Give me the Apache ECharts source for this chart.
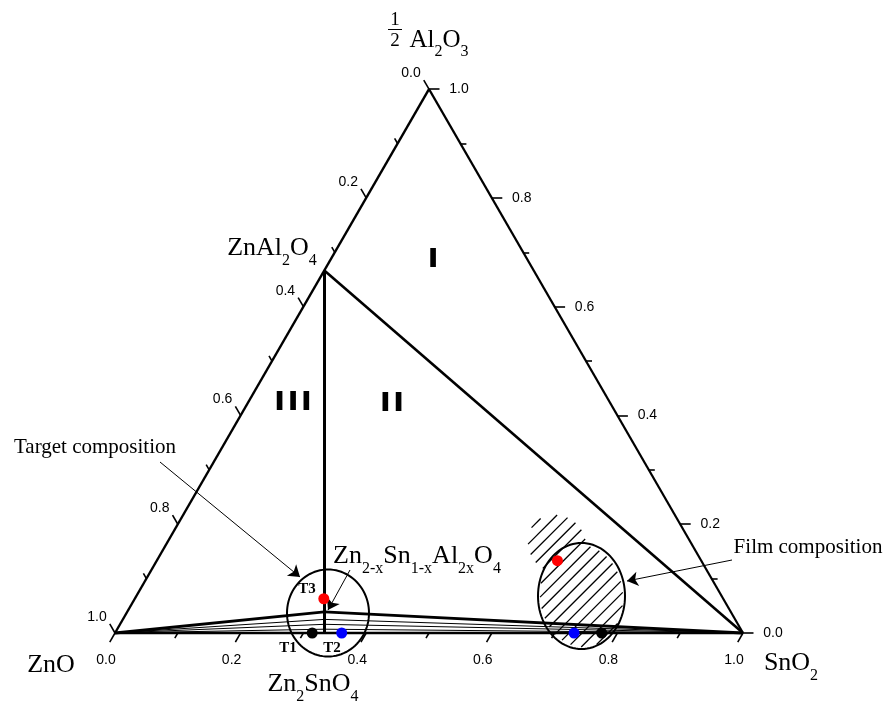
<!DOCTYPE html>
<html>
<head>
<meta charset="utf-8">
<script src="https://cdn.jsdelivr.net/npm/echarts@6/dist/echarts.min.js"></script>
<style>
  html, body { margin: 0; padding: 0; background: #fff; }
  #chart { width: 888px; height: 701px; }
</style>
</head>
<body>
<div id="chart"></div>
<script>
// ---- Data: compositions as [ZnO, SnO2, AlO1.5] mole fractions ----
const vertexZnO   = [1, 0, 0];
const vertexSnO2  = [0, 1, 0];
const vertexAl2O3 = [0, 0, 1];
const znAl2O4 = [1 / 3, 0, 2 / 3];   // ZnAl2O4
const zn2SnO4 = [2 / 3, 1 / 3, 0];   // Zn2SnO4

// Al fraction where each ZnO–spinel–SnO2 tie line meets the Zn2SnO4–ZnAl2O4 join
const tieLineAl = [0.039, 0.025, 0.016, 0.007];

// Target compositions
const targetNames  = ['T1', 'T2', 'T3'];
const targetValues = [[0.686, 0.314, 0.0], [0.639, 0.361, 0.0], [0.636, 0.301, 0.063]];
const targetColors = ['#000000', '#0000ff', '#ff0000'];

// Film compositions
const filmValues = [[0.225, 0.775, 0.0], [0.269, 0.731, 0.0], [0.229, 0.638, 0.133]];
const filmColors = ['#000000', '#0000ff', '#ff0000'];

// Axis ticks
const tickValues = [0, 0.1, 0.2, 0.3, 0.4, 0.5, 0.6, 0.7, 0.8, 0.9, 1.0];
const tickLabels = ['0.0', '0.2', '0.4', '0.6', '0.8', '1.0'];

// ---- Geometry helpers ----
const H = Math.sqrt(3) / 2;
function xy(t) { return [t[1] + t[2] / 2, t[2] * H]; }
function onJoin(al) { return [2 / 3 - al / 2, 1 / 3 - al / 2, al]; }

// grid frame: 628 px per composition unit, ZnO corner at (115, 633)
const G_LEFT = 115, G_BASE = 633, G_SCALE = 628;
function pt(px, py) { return [(px - G_LEFT) / G_SCALE, (G_BASE - py) / G_SCALE]; }
const PX = 1 / G_SCALE;

const SERIF = '"Liberation Serif", "Times New Roman", serif';
const SANS = '"Liberation Sans", Arial, sans-serif';

// ---- Segments ----
const segments = [];
function seg(a, b, w) { segments.push({ coords: [a, b], lineStyle: { width: w } }); }

// frame
seg(xy(vertexZnO), xy(vertexSnO2), 2.4);
seg(xy(vertexSnO2), xy(vertexAl2O3), 2.2);
seg(xy(vertexAl2O3), xy(vertexZnO), 2.4);
// joins
seg(xy(znAl2O4), xy(zn2SnO4), 3);
seg(xy(znAl2O4), xy(vertexSnO2), 2.6);
// tie lines
tieLineAl.forEach((al, i) => {
  const p = xy(onJoin(al));
  const w = i === 0 ? 2.8 : 1;
  seg(xy(vertexZnO), p, w);
  seg(p, xy(vertexSnO2), w);
});

// ticks
const majorSet = tickLabels.map(Number);
function isMajor(v) { return majorSet.some(m => Math.abs(m - v) < 1e-6); }
const axisDefs = [
  { at: v => xy([1 - v, v, 0]), dir: [-0.5, -H], off: [-9, 27] },   // SnO2 (bottom)
  { at: v => xy([v, 0, 1 - v]), dir: [-0.5, H], off: [-18, -16] },  // ZnO (left)
  { at: v => xy([0, 1 - v, v]), dir: [1, 0], off: [30, 0] }         // Al2O3 (right)
];
const tickLabelData = [];
axisDefs.forEach(ax => {
  tickValues.forEach(v => {
    const p = ax.at(v);
    const len = (isMajor(v) ? 10.5 : 6) * PX;
    seg(p, [p[0] + ax.dir[0] * len, p[1] + ax.dir[1] * len], 1.6);
    if (isMajor(v)) {
      const lab = tickLabels[majorSet.findIndex(m => Math.abs(m - v) < 1e-6)];
      tickLabelData.push({ name: lab, value: [p[0] + ax.off[0] * PX, p[1] - ax.off[1] * PX] });
    }
  });
});
// fraction bar of 1/2
segments.push({ coords: [pt(388, 29.5), pt(402, 29.5)], lineStyle: { width: 1 } });

// arrows
const arrows = [
  { coords: [pt(160, 462), pt(300, 577)] },
  { coords: [pt(350, 570), pt(328, 610)] },
  { coords: [pt(732, 560), pt(627, 581)] }
];

// ---- Text annotations ----
const rich26 = {
  m: { fontFamily: SERIF, fontSize: 26, lineHeight: 26, verticalAlign: 'top', color: '#000' },
  s: { fontFamily: SERIF, fontSize: 16, lineHeight: 16, verticalAlign: 'top', padding: [17, 0, 0, 0], color: '#000' }
};
const rich24 = {
  m: { fontFamily: SERIF, fontSize: 25, lineHeight: 25, verticalAlign: 'top', color: '#000' },
  s: { fontFamily: SERIF, fontSize: 16, lineHeight: 16, verticalAlign: 'top', padding: [16, 0, 0, 0], color: '#000' }
};
function note(value, text, style) { return { value, label: Object.assign({ formatter: text }, style) }; }
const serif26 = { rich: rich26 };
const serif24 = { rich: rich24 };
const plain = (size, weight, family) => ({ fontFamily: family, fontSize: size, fontWeight: weight, color: '#000' });
// heavy sans numerals for the phase fields
const heavy = Object.assign(plain(24, 'bold', SANS), { textBorderColor: '#000', textBorderWidth: 2.2 });

const notes = [
  note(pt(51, 665), 'ZnO', plain(26, 'normal', SERIF)),
  note(pt(791, 663.5), '{m|SnO}{s|2}', serif26),
  note(pt(313, 684.5), '{m|Zn}{s|2}{m|SnO}{s|4}', serif26),
  note(pt(272, 248.5), '{m|ZnAl}{s|2}{m|O}{s|4}', serif26),
  note(pt(417, 556.5), '{m|Zn}{s|2-x}{m|Sn}{s|1-x}{m|Al}{s|2x}{m|O}{s|4}', serif26),
  note(pt(439, 40), '{m|Al}{s|2}{m|O}{s|3}', serif24),
  note(pt(395, 20), '1', plain(19, 'normal', SERIF)),
  note(pt(395, 41), '2', plain(19, 'normal', SERIF)),
  note(pt(95, 447), 'Target composition', plain(21, 'normal', SERIF)),
  note(pt(808, 547), 'Film composition', plain(21, 'normal', SERIF)),
  note(pt(433, 259), 'I', heavy),
  note(pt(392, 403), 'I I', heavy),
  note(pt(293, 402), 'I I I', heavy),
  note(pt(288, 648), 'T1', plain(15, 'bold', SERIF)),
  note(pt(332, 648), 'T2', plain(15, 'bold', SERIF)),
  note(pt(307, 589), 'T3', plain(15, 'bold', SERIF))
];

// ---- Ellipses (outline, optional hatching) ----
const ellipses = [
  { center: pt(328, 613), radii: [41 * PX, 43.5 * PX], hatch: null },
  { center: pt(581.5, 596), radii: [43.5 * PX, 53 * PX],
    hatch: { center: pt(557, 544), radii: [31 * PX, 31 * PX] } }
];

function chord(c, e) {
  // intersection of screen line x + y = c with ellipse e (pixel units)
  const d = c - e.cx - e.cy;
  const A = 1 / (e.rx * e.rx) + 1 / (e.ry * e.ry);
  const B = -2 * d / (e.ry * e.ry);
  const C = d * d / (e.ry * e.ry) - 1;
  const disc = B * B - 4 * A * C;
  if (disc <= 0) return null;
  const r = Math.sqrt(disc);
  return [e.cx + (-B - r) / (2 * A), e.cx + (-B + r) / (2 * A)];
}

function renderEllipse(params, api) {
  const spec = ellipses[params.dataIndex];
  const c = api.coord(spec.center);
  const s = api.size(spec.radii);
  const pts = [];
  for (let k = 0; k < 96; k++) {
    const a = (k / 96) * Math.PI * 2;
    pts.push([c[0] + s[0] * Math.cos(a), c[1] + s[1] * Math.sin(a)]);
  }
  const children = [{
    type: 'polygon', shape: { points: pts },
    style: { fill: 'none', stroke: '#000', lineWidth: 2 }
  }];
  if (spec.hatch) {
    const c2 = api.coord(spec.hatch.center);
    const s2 = api.size(spec.hatch.radii);
    const shapes = [
      { cx: c[0], cy: c[1], rx: s[0], ry: s[1] },
      { cx: c2[0], cy: c2[1], rx: s2[0], ry: s2[1] }
    ];
    const ext = shapes.map(e => [e.cx + e.cy - Math.hypot(e.rx, e.ry), e.cx + e.cy + Math.hypot(e.rx, e.ry)]);
    const cMin = Math.min(ext[0][0], ext[1][0]) + 2;
    const cMax = Math.max(ext[0][1], ext[1][1]);
    for (let cc = cMin; cc < cMax; cc += 13) {
      const ivs = shapes.map(e => chord(cc, e)).filter(Boolean).sort((a, b) => a[0] - b[0]);
      const merged = [];
      ivs.forEach(iv => {
        const last = merged[merged.length - 1];
        if (last && iv[0] <= last[1]) last[1] = Math.max(last[1], iv[1]);
        else merged.push(iv.slice());
      });
      merged.forEach(iv => {
        const x1 = iv[0] + 2, x2 = iv[1] - 2;
        if (x2 - x1 < 3) return;
        children.push({
          type: 'line',
          shape: { x1: x1, y1: cc - x1, x2: x2, y2: cc - x2 },
          style: { stroke: '#000', lineWidth: 1.3 }
        });
      });
    }
  }
  return { type: 'group', children };
}

// ---- Chart ----
const chart = echarts.init(document.getElementById('chart'), null, { renderer: 'canvas' });
const hidden = { color: 'rgba(0,0,0,0)', opacity: 1 };
chart.setOption({
  animation: false,
  backgroundColor: '#fff',
  grid: { left: G_LEFT, top: G_BASE - H * G_SCALE, width: G_SCALE, height: H * G_SCALE },
  xAxis: { type: 'value', min: 0, max: 1, show: false },
  yAxis: { type: 'value', min: 0, max: H, show: false },
  series: [
    {
      type: 'custom', name: 'regions', clip: false, z: 3,
      data: ellipses.map((e, i) => [i]),
      renderItem: renderEllipse
    },
    {
      type: 'lines', coordinateSystem: 'cartesian2d', clip: false, z: 2,
      lineStyle: { color: '#000', opacity: 1 },
      data: segments
    },
    {
      type: 'lines', coordinateSystem: 'cartesian2d', clip: false, z: 4,
      symbol: ['none', 'arrow'], symbolSize: 11,
      lineStyle: { color: '#000', width: 1, opacity: 1 },
      data: arrows
    },
    {
      type: 'scatter', name: 'targets', clip: false, z: 6, symbolSize: 11,
      emphasis: { disabled: true },
      data: targetValues.map((t, i) => ({ name: targetNames[i], value: xy(t), itemStyle: { color: targetColors[i], opacity: 1 } }))
    },
    {
      type: 'scatter', name: 'films', clip: false, z: 6, symbolSize: 11,
      emphasis: { disabled: true },
      data: filmValues.map((t, i) => ({ value: xy(t), itemStyle: { color: filmColors[i], opacity: 1 } }))
    },
    {
      type: 'scatter', name: 'tickLabels', clip: false, z: 5, symbolSize: 1,
      itemStyle: hidden, emphasis: { disabled: true },
      label: { show: true, position: 'inside', formatter: p => p.name,
               fontFamily: SANS, fontSize: 14, color: '#000' },
      data: tickLabelData
    },
    {
      type: 'scatter', name: 'notes', clip: false, z: 5, symbolSize: 1,
      itemStyle: hidden, emphasis: { disabled: true },
      label: { show: true, position: 'inside', color: '#000' },
      data: notes
    }
  ]
});
</script>
</body>
</html>
